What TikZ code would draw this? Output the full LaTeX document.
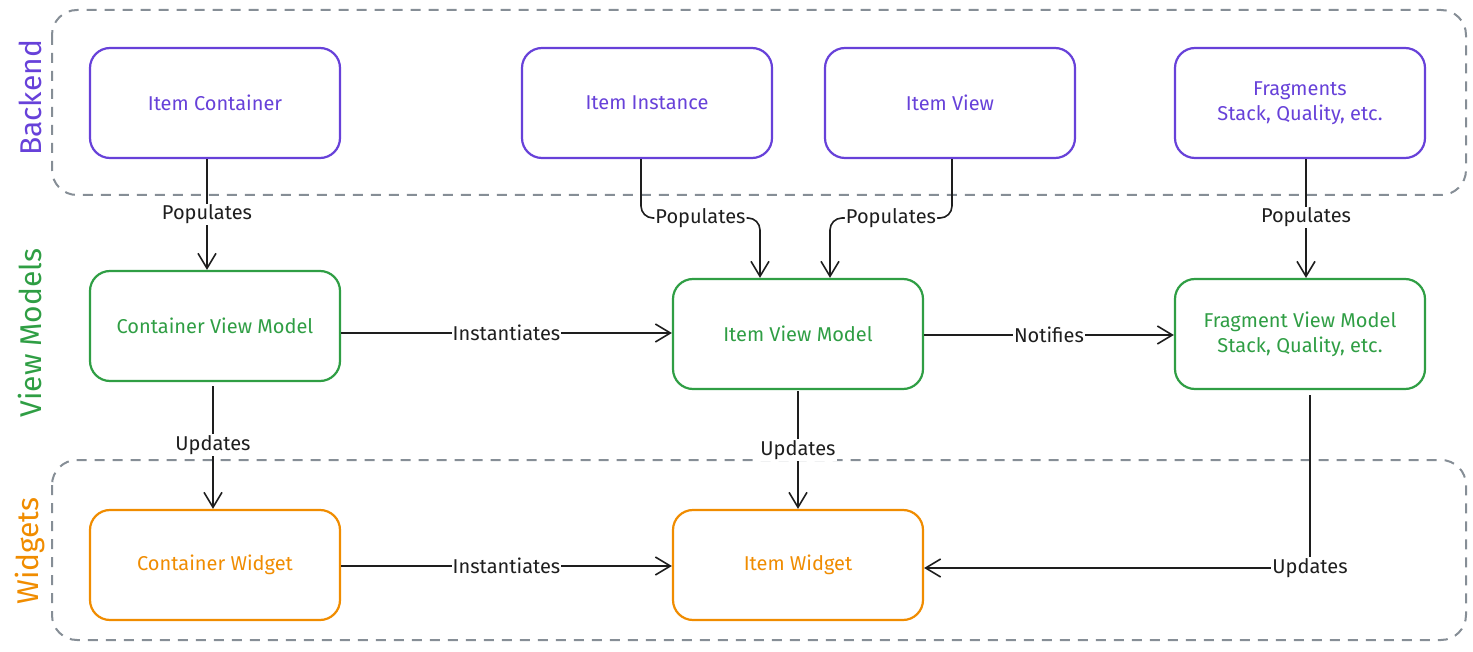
\documentclass[tikz,border=0pt]{standalone}
\usepackage{fontspec}
\setmainfont{Fira Sans}
\usetikzlibrary{arrows.meta}
\definecolor{cpurple}{HTML}{6741D9}
\definecolor{cgreen}{HTML}{2F9E44}
\definecolor{corange}{HTML}{F08C00}
\definecolor{cgray}{HTML}{868E96}
\definecolor{cdark}{HTML}{1E1E1E}
\tikzset{
  box/.style={draw, line width=2.2pt, rounded corners=20pt, minimum width=250pt, minimum height=110pt, align=center, font=\fontsize{20}{25}\selectfont, fill=white},
  bk/.style={box, draw=cpurple, text=cpurple},
  vm/.style={box, draw=cgreen, text=cgreen},
  wg/.style={box, draw=corange, text=corange},
  group/.style={draw=cgray, line width=2pt, dash pattern=on 10pt off 8pt, rounded corners=25pt},
  grouplabel/.style={rotate=90, font=\fontsize{30}{33}\selectfont},
  conn/.style={draw=cdark, line width=1.6pt, -{Straight Barb[length=15pt,width=18pt,line width=1.6pt]}},
  lbl/.style={fill=white, text=cdark, inner sep=1pt, font=\fontsize{20}{23}\selectfont},
}
\begin{document}
\begin{tikzpicture}[x=1pt,y=-1pt]
\useasboundingbox (0,0) rectangle (1473,652);
% groups
\draw[group] (52,10) rectangle (1466,195);
\draw[group] (52,460) rectangle (1466,640);
\node[grouplabel, text=cpurple] (lb) at (30,98) {Backend};
\node[grouplabel, text=cgreen] (lv) at (30,333) {View Models};
\node[grouplabel, text=corange] (lw) at (30,551) {Widgets};
% nodes
\node[bk] (ic) at (215,103) {Item Container};
\node[bk] (ii) at (647,103) {Item Instance};
\node[bk] (iv) at (950,103) {Item View};
\node[bk] (fr) at (1300,103) {Fragments\\Stack, Quality, etc.};
\node[vm] (cvm) at (215,326) {Container View Model};
\node[vm] (ivm) at (798,334) {Item View Model};
\node[vm] (fvm) at (1300,334) {Fragment View Model\\Stack, Quality, etc.};
\node[wg] (cw) at (215,565) {Container Widget};
\node[wg] (iw) at (798,565) {Item Widget};
% connectors
\draw[conn] (ic.south -| 207,0) -- node[lbl]{Populates} (cvm.north -| 207,0);
\draw[conn, rounded corners=12pt] (ii.south -| 641,0) -- (641,218) -- node[lbl, pos=0.5]{Populates} (760,218) -- (ivm.north -| 760,0);
\draw[conn, rounded corners=12pt] (iv.south -| 952,0) -- (952,218) -- node[lbl, pos=0.5]{Populates} (830,218) -- (ivm.north -| 830,0);
\draw[conn] (fr.south -| 1306,0) -- node[lbl, pos=0.49]{Populates} (fvm.north -| 1306,0);
\draw[conn] (cvm.east |- 0,333) -- node[lbl]{Instantiates} (ivm.west |- 0,333);
\draw[conn] (ivm.east |- 0,335) -- node[lbl]{Notifies} (fvm.west |- 0,335);
\draw[conn] (213,386) -- node[lbl, pos=0.48]{Updates} (cw.north -| 213,0);
\draw[conn] (798,391) -- node[lbl, pos=0.5]{Updates} (iw.north -| 798,0);
\draw[conn] (1310,395) -- (1310,568) node[lbl]{Updates} -- (iw.east |- 0,568);
\draw[conn] (cw.east |- 0,566) -- node[lbl]{Instantiates} (iw.west |- 0,566);
\end{tikzpicture}
\end{document}
